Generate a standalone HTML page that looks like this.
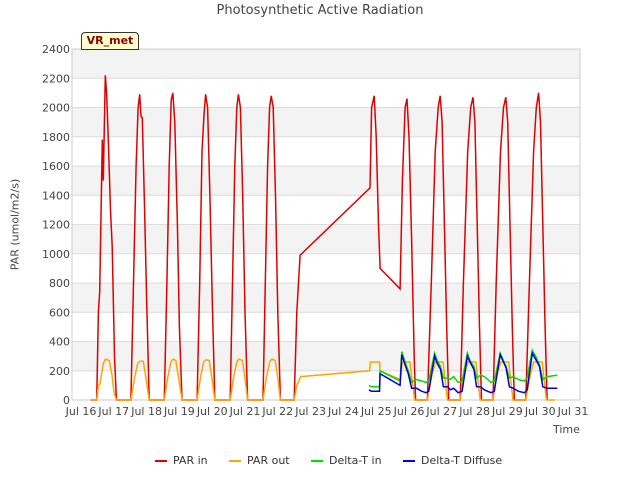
<!DOCTYPE html>
<html><head><meta charset="utf-8"><style>
body{margin:0;background:#fff;font-family:"Liberation Sans","DejaVu Sans",sans-serif}
svg text{font-family:"DejaVu Sans","Liberation Sans",sans-serif}
</style></head><body>
<svg id="c" width="640" height="480" xmlns="http://www.w3.org/2000/svg"></svg>
<script>
const yTicks=[0,200,400,600,800,1000,1200,1400,1600,1800,2000,2200,2400];
const xTicks=[16,17,18,19,20,21,22,23,24,25,26,27,28,29,30,31];
const xTickLabels=["Jul 16","Jul 17","Jul 18","Jul 19","Jul 20","Jul 21","Jul 22","Jul 23","Jul 24","Jul 25","Jul 26","Jul 27","Jul 28","Jul 29","Jul 30","Jul 31"];
const parIn=[[16.3,0],[16.48,0],[16.53,600],[16.57,740],[16.65,1780],[16.68,1500],[16.74,2220],[16.78,2100],[16.83,1800],[16.9,1300],[16.95,1050],[17.02,300],[17.08,0],
[17.52,0],[17.6,800],[17.68,1600],[17.74,2000],[17.79,2090],[17.83,1940],[17.87,1930],[17.94,1300],[18.0,700],[18.08,0],
[18.54,0],[18.62,800],[18.69,1600],[18.75,2050],[18.8,2100],[18.86,1900],[18.94,1200],[19.0,500],[19.08,0],
[19.54,0],[19.62,800],[19.69,1700],[19.75,1950],[19.8,2090],[19.86,2000],[19.93,1400],[20.0,700],[20.08,0],
[20.55,0],[20.62,800],[20.69,1600],[20.75,2000],[20.8,2090],[20.86,2000],[20.93,1400],[21.0,600],[21.08,0],
[21.55,0],[21.62,800],[21.69,1600],[21.75,2000],[21.8,2080],[21.86,2000],[21.93,1400],[22.0,600],[22.08,0],
[22.5,0],[22.58,600],[22.68,990],[24.81,1450],[24.86,2000],[24.94,2080],[25.0,1800],[25.07,1200],[25.12,900],[25.73,760],[25.8,1500],[25.88,2000],[25.94,2060],[26.0,1800],[26.08,1100],[26.16,300],[26.2,0],
[26.56,0],[26.68,800],[26.8,1700],[26.89,2000],[26.95,2080],[27.01,1900],[27.08,1200],[27.15,500],[27.21,0],
[27.56,0],[27.66,800],[27.79,1700],[27.88,2000],[27.95,2070],[28.01,1900],[28.08,1200],[28.15,500],[28.21,0],
[28.56,0],[28.66,800],[28.79,1700],[28.88,2000],[28.95,2070],[29.01,1900],[29.08,1200],[29.15,500],[29.21,0],
[29.56,0],[29.67,800],[29.8,1700],[29.88,2000],[29.95,2100],[30.01,1900],[30.08,1200],[30.15,500],[30.21,0]];
const parOut=[[16.3,0],[16.48,0],[16.53,100],[16.58,110],[16.68,250],[16.75,280],[16.86,270],[16.94,180],[17.01,50],[17.08,0],
[17.52,0],[17.63,150],[17.73,250],[17.8,265],[17.9,265],[17.98,150],[18.08,0],
[18.54,0],[18.64,150],[18.74,260],[18.81,280],[18.89,270],[18.98,150],[19.08,0],
[19.54,0],[19.64,150],[19.74,260],[19.81,275],[19.91,270],[19.99,150],[20.08,0],
[20.55,0],[20.65,150],[20.75,260],[20.82,280],[20.92,270],[21.0,150],[21.08,0],
[21.55,0],[21.65,150],[21.75,260],[21.82,280],[21.92,270],[22.0,150],[22.08,0],
[22.5,0],[22.58,100],[22.7,160],[24.8,200],[24.82,260],[25.1,260],[25.12,200],[25.73,140],[25.8,260],[26.02,260],[26.12,100],[26.17,0],
[26.56,0],[26.68,150],[26.8,260],[27.04,260],[27.12,100],[27.17,0],
[27.56,0],[27.66,150],[27.8,260],[28.04,260],[28.12,100],[28.17,0],
[28.56,0],[28.66,150],[28.8,260],[29.04,260],[29.12,100],[29.17,0],
[29.56,0],[29.68,150],[29.8,260],[30.06,260],[30.14,100],[30.19,0],[30.45,0]];
const dtIn=[[24.78,100],[24.85,90],[25.1,90],[25.12,200],[25.73,130],[25.78,330],[25.88,260],[25.98,200],[26.08,120],[26.23,140],[26.38,130],[26.52,120],[26.6,130],[26.78,320],[26.86,270],[26.96,230],[27.05,150],[27.18,150],[27.26,140],[27.36,160],[27.5,120],[27.62,130],[27.78,320],[27.86,270],[27.98,230],[28.06,150],[28.18,170],[28.3,160],[28.5,120],[28.6,130],[28.78,320],[28.86,280],[28.96,230],[29.06,150],[29.18,160],[29.33,140],[29.52,130],[29.6,150],[29.76,340],[29.86,300],[29.98,240],[30.08,140],[30.22,160],[30.52,170]];
const dtDif=[[24.78,70],[24.85,60],[25.1,60],[25.12,180],[25.73,100],[25.78,310],[25.88,240],[25.98,180],[26.08,80],[26.23,80],[26.38,60],[26.52,50],[26.6,60],[26.78,300],[26.86,250],[26.96,210],[27.05,90],[27.18,90],[27.26,70],[27.36,80],[27.5,50],[27.62,60],[27.78,300],[27.86,260],[27.98,210],[28.06,90],[28.18,90],[28.3,70],[28.5,50],[28.6,60],[28.78,310],[28.86,270],[28.96,220],[29.06,90],[29.18,80],[29.33,60],[29.52,50],[29.6,70],[29.76,320],[29.86,280],[29.98,230],[30.08,90],[30.22,80],[30.52,80]];
const L=72,R=580,T=49,B=400;
const X=d=>81+(d-16)*32.8;
const Y=v=>B-(v/2400)*(B-T);
const svg=document.getElementById('c');const NS='http://www.w3.org/2000/svg';
function mk(tag,attrs,parent){const e=document.createElementNS(NS,tag);for(const k in attrs)e.setAttribute(k,attrs[k]);(parent||svg).appendChild(e);return e;}
const bg=mk('rect',{x:L,y:T,width:R-L,height:B-T,fill:'#fff'});


for(let i=0;i<yTicks.length-1;i++){if(i%2==1){const b=mk('rect',{x:L,y:Y(yTicks[i+1]),width:R-L,height:Y(yTicks[i])-Y(yTicks[i+1]),fill:'#ebebeb',opacity:0.6});

}}
yTicks.forEach(v=>{const g=mk('line',{x1:L,x2:R,y1:Y(v),y2:Y(v),stroke:'#dcdcdc','stroke-width':1});


const t=mk('text',{x:L-2,y:Y(v)+4,'text-anchor':'end','font-size':11,fill:'#444'});t.textContent=v;

});
const ax=mk('rect',{x:L,y:T,width:R-L,height:B-T,fill:'none',stroke:'#ccc'});


xTicks.forEach((d,i)=>{const t=mk('text',{x:X(d),y:B+15,'text-anchor':'middle','font-size':11,fill:'#444'});t.textContent=xTickLabels[i];

});
function line(data,color,name){const p=mk('polyline',{points:data.map(a=>X(a[0]).toFixed(1)+','+Y(a[1]).toFixed(1)).join(' '),fill:'none',stroke:color,'stroke-width':1.5});

}
line(parIn,'#e00000','par-in-line');line(parOut,'#ffa500','par-out-line');line(dtIn,'#00dd00','delta-t-in-line');line(dtDif,'#0000dd','delta-t-diffuse-line');
</script>
<div style="position:absolute;left:0;top:3px;width:640px;text-align:center;font-size:13px;color:#444;font-family:'DejaVu Sans',sans-serif">Photosynthetic Active Radiation</div>
<div style="position:absolute;left:-40px;top:218px;width:110px;text-align:center;transform:rotate(-90deg);font-size:11px;color:#444;font-family:'DejaVu Sans',sans-serif">PAR (umol/m2/s)</div>
<div style="position:absolute;left:553px;top:423px;font-size:11px;color:#444;font-family:'DejaVu Sans',sans-serif">Time</div>
<div style="position:absolute;left:81px;top:32px;width:56px;height:16px;background:#ffffcc;border:1px solid #333;border-radius:4px 4px 0 0;font-size:11px;font-weight:bold;color:#8b0000;text-align:center;line-height:16px;font-family:'DejaVu Sans',sans-serif">VR_met</div>
<div style="position:absolute;left:0;top:454px;width:640px;font-size:11px;color:#333;font-family:'DejaVu Sans',sans-serif">
<span style="position:absolute;left:155px"><span style="display:inline-block;width:12px;height:2px;background:#e00000;vertical-align:middle;margin-right:6px"></span>PAR in</span>
<span style="position:absolute;left:229px"><span style="display:inline-block;width:12px;height:2px;background:#ffa500;vertical-align:middle;margin-right:6px"></span>PAR out</span>
<span style="position:absolute;left:311px"><span style="display:inline-block;width:12px;height:2px;background:#00dd00;vertical-align:middle;margin-right:6px"></span>Delta-T in</span>
<span style="position:absolute;left:403px"><span style="display:inline-block;width:12px;height:2px;background:#0000dd;vertical-align:middle;margin-right:6px"></span>Delta-T Diffuse</span>
</div>
</body></html>
